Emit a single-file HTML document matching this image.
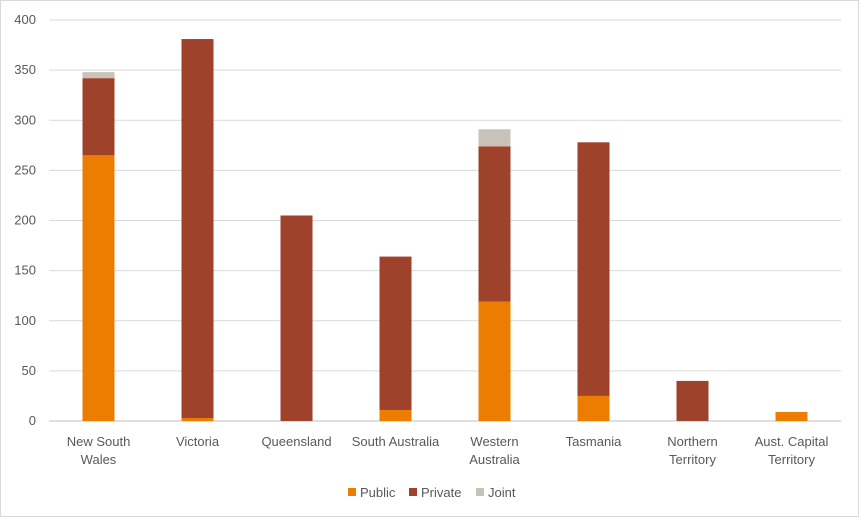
<!DOCTYPE html>
<html><head><meta charset="utf-8"><style>
body{margin:0;background:#fff;font-family:"Liberation Sans",sans-serif;}
#wrap{position:relative;width:859px;height:517px;border:1px solid #d9d9d9;box-sizing:border-box;}
text{font-family:"Liberation Sans",sans-serif;font-size:13px;fill:#595959;}
</style></head><body>
<div id="wrap">
<svg id="chart" width="859" height="517"></svg>
</div>
<script>
const categories=[["New South","Wales"],["Victoria"],["Queensland"],["South Australia"],["Western","Australia"],["Tasmania"],["Northern","Territory"],["Aust. Capital","Territory"]];
const publicVals=[265,3,0,11,119,25,0,9];
const privateVals=[77,378,205,153,155,253,40,0];
const jointVals=[6,0,0,0,17,0,0,0];
const yTicks=[0,50,100,150,200,250,300,350,400];
const seriesNames=["Public","Private","Joint"];
const colors=["#ed7d00","#9e422b","#c9c2b9"];
const NS="http://www.w3.org/2000/svg";
const svg=document.getElementById('chart');
const x0=48,x1=840,yBase=420,yTop=19,yMax=400;
const y=v=>yBase-(v/yMax)*(yBase-yTop);
const step=(x1-x0)/categories.length;
const xc=i=>x0+step*(i+0.5);
const bw=32;
function el(t,a){const e=document.createElementNS(NS,t);for(const k in a)e.setAttribute(k,a[k]);svg.appendChild(e);return e;}
yTicks.forEach(t=>{
  const g=el('line',{x1:x0,x2:x1,y1:y(t),y2:y(t),stroke:t===0?'#bfbfbf':'#d9d9d9','stroke-width':1});
  
  
  const l=el('text',{x:35,y:y(t)+4,'text-anchor':'end'});l.textContent=t;
  
  
});
const series=[publicVals,privateVals,jointVals];
categories.forEach((c,i)=>{
  let acc=0;
  series.forEach((s,k)=>{
    const v=s[i];if(v<=0)return;
    const r=el('rect',{x:xc(i)-bw/2,y:y(acc+v),width:bw,height:y(acc)-y(acc+v),fill:colors[k]});
    
    
    acc+=v;
  });
  c.forEach((line,j)=>{
    const t=el('text',{x:xc(i),y:445+j*18,'text-anchor':'middle'});t.textContent=line;
    
    
  });
});
const legX=[347,408,475];
seriesNames.forEach((n,k)=>{
  const r=el('rect',{x:legX[k],y:487,width:8,height:8,fill:colors[k]});
  
  
  const t=el('text',{x:legX[k]+12,y:496});t.textContent=n;
  
  
});
</script>
</body></html>
